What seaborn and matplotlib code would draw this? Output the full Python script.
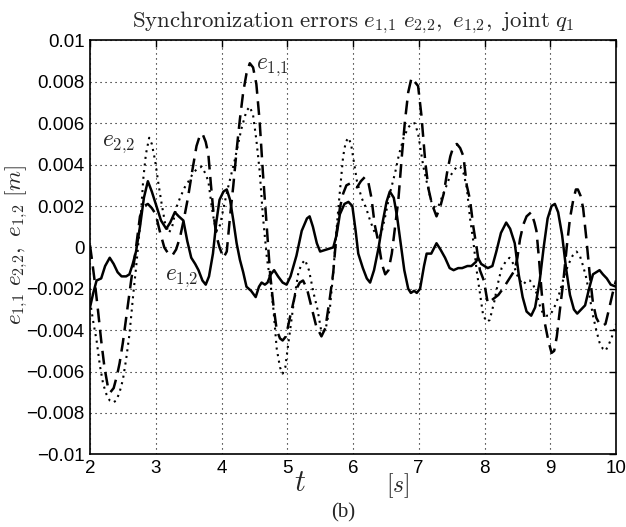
import numpy as np
import pandas as pd
import matplotlib
matplotlib.use("Agg")
import matplotlib.pyplot as plt
import seaborn as sns
from matplotlib.ticker import FixedLocator, FixedFormatter

# ---------------- data ----------------
t_e12 = [2.00, 2.05, 2.10, 2.17, 2.23, 2.30, 2.36, 2.42, 2.48, 2.55, 2.60, 2.65, 2.70, 2.76,
         2.82, 2.88, 2.94, 3.00, 3.08, 3.16, 3.22, 3.29, 3.35, 3.42, 3.48, 3.54, 3.60, 3.65,
         3.71, 3.76, 3.81, 3.87, 3.92, 3.97, 4.03, 4.08, 4.13, 4.18, 4.23, 4.28, 4.33, 4.38,
         4.45, 4.52, 4.57, 4.61, 4.66, 4.70, 4.75, 4.80, 4.86, 4.93, 4.99, 5.05, 5.14, 5.22,
         5.30, 5.34, 5.39, 5.45, 5.50, 5.60, 5.70, 5.75, 5.80, 5.87, 5.93, 5.99, 6.04, 6.08,
         6.15, 6.21, 6.26, 6.32, 6.39, 6.45, 6.51, 6.56, 6.62, 6.67, 6.72, 6.78, 6.84, 6.88,
         6.93, 6.97, 7.02, 7.08, 7.12, 7.19, 7.27, 7.33, 7.40, 7.47, 7.53, 7.60, 7.66, 7.74,
         7.80, 7.87, 7.90, 7.95, 8.05, 8.12, 8.18, 8.25, 8.33, 8.39, 8.46, 8.52, 8.58, 8.64,
         8.71, 8.77, 8.84, 8.90, 8.96, 9.02, 9.07, 9.12, 9.18, 9.24, 9.30, 9.36, 9.41, 9.47,
         9.53, 9.59, 9.65, 9.70, 9.75, 9.80, 9.86, 9.92, 10.0]
e12 = [-0.0029, -0.0022, -0.0016, -0.0015, -0.0009, -0.0005, -0.0008, -0.0012, -0.0014, -0.0014,
       -0.0013, -0.0008, -0.0002, 0.0010, 0.0024, 0.0032, 0.0027, 0.0021, 0.0013, 0.0009,
       0.0012, 0.0017, 0.0015, 0.0013, 0.0003, -0.0005, -0.0008, -0.0011, -0.0016, -0.0018,
       -0.0014, -0.0003, 0.0012, 0.0023, 0.0027, 0.0028, 0.0023, 0.0013, 0.0002, -0.0006,
       -0.0012, -0.0019, -0.0021, -0.0024, -0.0019, -0.0017, -0.0018, -0.0017, -0.0013, -0.0011,
       -0.0014, -0.0017, -0.0018, -0.0014, -0.0004, 0.0008, 0.0014, 0.0015, 0.0010, 0.0002,
       -0.0002, -0.0001, 0.0000, 0.0006, 0.0016, 0.0021, 0.0022, 0.0020, 0.0008, -0.0003,
       -0.0010, -0.0015, -0.0017, -0.0011, 0.0000, 0.0012, 0.0022, 0.0027, 0.0024, 0.0015,
       0.0003, -0.0011, -0.0020, -0.0022, -0.0021, -0.0022, -0.0020, -0.0009, -0.0003, -0.0003,
       0.0002, -0.0001, -0.0005, -0.0010, -0.0011, -0.0010, -0.0010, -0.0009, -0.0009, -0.0007,
       -0.0005, -0.0008, -0.0010, -0.0009, -0.0002, 0.0007, 0.0012, 0.0009, 0.0002, -0.0013,
       -0.0024, -0.0031, -0.0033, -0.0029, -0.0016, 0.0000, 0.0014, 0.0020, 0.0021, 0.0017,
       0.0006, -0.0010, -0.0023, -0.0030, -0.0032, -0.0030, -0.0028, -0.0020, -0.0013, -0.0012,
       -0.0011, -0.0013, -0.0015, -0.0018, -0.0019]

t_e11 = [2.00, 2.03, 2.07, 2.12, 2.17, 2.22, 2.27, 2.31, 2.36, 2.41, 2.45, 2.50, 2.55, 2.58,
         2.63, 2.68, 2.72, 2.76, 2.82, 2.88, 2.94, 3.00, 3.06, 3.13, 3.19, 3.25, 3.31, 3.37,
         3.43, 3.49, 3.55, 3.62, 3.67, 3.71, 3.76, 3.80, 3.84, 3.88, 3.92, 3.97, 4.03, 4.08,
         4.13, 4.18, 4.23, 4.28, 4.33, 4.38, 4.43, 4.48, 4.53, 4.58, 4.63, 4.68, 4.74, 4.79,
         4.84, 4.89, 4.93, 4.98, 5.04, 5.09, 5.14, 5.19, 5.24, 5.30, 5.37, 5.44, 5.52, 5.58,
         5.65, 5.70, 5.75, 5.80, 5.85, 5.90, 5.96, 6.02, 6.06, 6.12, 6.18, 6.23, 6.28, 6.33,
         6.39, 6.44, 6.49, 6.54, 6.59, 6.64, 6.69, 6.74, 6.79, 6.84, 6.89, 6.94, 6.99, 7.04,
         7.10, 7.15, 7.20, 7.27, 7.33, 7.38, 7.43, 7.48, 7.53, 7.58, 7.63, 7.68, 7.73, 7.78,
         7.83, 7.88, 7.93, 7.99, 8.05, 8.13, 8.21, 8.28, 8.36, 8.46, 8.50, 8.54, 8.59, 8.64,
         8.71, 8.76, 8.79, 8.83, 8.87, 8.92, 8.97, 9.02, 9.06, 9.10, 9.14, 9.20, 9.25, 9.30,
         9.35, 9.39, 9.42, 9.46, 9.50, 9.55, 9.60, 9.65, 9.70, 9.75, 9.79, 9.84, 9.90, 9.95,
         10.0]
e11 = [0.0001, -0.0006, -0.0016, -0.0030, -0.0045, -0.0058, -0.0067, -0.0070, -0.0068, -0.0062,
       -0.0056, -0.0046, -0.0034, -0.0027, -0.0015, -0.0005, 0.0005, 0.0015, 0.0020, 0.0021,
       0.0019, 0.0016, 0.0008, 0.0000, -0.0003, -0.0004, -0.0001, 0.0005, 0.0014, 0.0024,
       0.0036, 0.0049, 0.0054, 0.0055, 0.0051, 0.0045, 0.0030, 0.0016, 0.0006, 0.0000,
       -0.0005, -0.0002, 0.0015, 0.0030, 0.0047, 0.0062, 0.0075, 0.0084, 0.0089, 0.0087,
       0.0079, 0.0061, 0.0036, 0.0014, -0.0013, -0.0028, -0.0040, -0.0044, -0.0045, -0.0043,
       -0.0034, -0.0027, -0.0020, -0.0017, -0.0016, -0.0020, -0.0029, -0.0038, -0.0043, -0.0039,
       -0.0024, -0.0012, 0.0007, 0.0019, 0.0026, 0.0030, 0.0031, 0.0030, 0.0029, 0.0032,
       0.0034, 0.0032, 0.0024, 0.0011, 0.0002, -0.0008, -0.0013, -0.0011, -0.0003, 0.0010,
       0.0023, 0.0043, 0.0061, 0.0075, 0.0082, 0.0080, 0.0078, 0.0064, 0.0041, 0.0028,
       0.0021, 0.0015, 0.0020, 0.0026, 0.0036, 0.0044, 0.0049, 0.0050, 0.0048, 0.0044,
       0.0030, 0.0023, 0.0010, 0.0000, -0.0011, -0.0016, -0.0027, -0.0025, -0.0023, -0.0020,
       -0.0016, -0.0011, -0.0005, 0.0004, 0.0011, 0.0015, 0.0017, 0.0012, 0.0008, -0.0006,
       -0.0022, -0.0037, -0.0045, -0.0051, -0.0050, -0.0043, -0.0032, -0.0016, 0.0000, 0.0014,
       0.0023, 0.0028, 0.0028, 0.0025, 0.0019, 0.0004, -0.0013, -0.0027, -0.0034, -0.0037,
       -0.0038, -0.0037, -0.0029, -0.0022, -0.0016]

t_e22 = [2.00, 2.05, 2.10, 2.15, 2.20, 2.25, 2.30, 2.35, 2.40, 2.45, 2.50, 2.55, 2.60, 2.66,
         2.70, 2.73, 2.77, 2.81, 2.85, 2.90, 2.94, 2.99, 3.04, 3.09, 3.14, 3.20, 3.25, 3.31,
         3.37, 3.44, 3.50, 3.57, 3.63, 3.70, 3.75, 3.80, 3.85, 3.89, 3.93, 3.98, 4.03, 4.10,
         4.20, 4.30, 4.38, 4.43, 4.48, 4.53, 4.58, 4.63, 4.69, 4.74, 4.79, 4.84, 4.89, 4.93,
         4.97, 5.01, 5.06, 5.11, 5.17, 5.22, 5.27, 5.33, 5.40, 5.46, 5.52, 5.58, 5.65, 5.70,
         5.74, 5.78, 5.82, 5.85, 5.89, 5.93, 5.97, 6.01, 6.06, 6.13, 6.20, 6.26, 6.32, 6.39,
         6.44, 6.49, 6.56, 6.64, 6.70, 6.77, 6.84, 6.90, 6.94, 6.99, 7.03, 7.07, 7.14, 7.20,
         7.25, 7.30, 7.35, 7.40, 7.47, 7.53, 7.58, 7.63, 7.68, 7.73, 7.78, 7.83, 7.88, 7.93,
         7.98, 8.04, 8.08, 8.15, 8.20, 8.26, 8.32, 8.38, 8.44, 8.49, 8.54, 8.59, 8.64, 8.69,
         8.74, 8.79, 8.84, 8.89, 8.94, 8.98, 9.03, 9.09, 9.15, 9.22, 9.28, 9.34, 9.40, 9.45,
         9.50, 9.55, 9.60, 9.65, 9.70, 9.75, 9.80, 9.84, 9.89, 9.94, 10.0]
e22 = [-0.0026, -0.0036, -0.0045, -0.0057, -0.0066, -0.0071, -0.0074, -0.0075, -0.0074, -0.0070,
       -0.0064, -0.0054, -0.0042, -0.0022, -0.0010, 0.0000, 0.0014, 0.0033, 0.0045, 0.0053,
       0.0050, 0.0042, 0.0031, 0.0021, 0.0012, 0.0007, 0.0010, 0.0019, 0.0024, 0.0029,
       0.0032, 0.0036, 0.0038, 0.0039, 0.0036, 0.0032, 0.0020, 0.0012, 0.0008, 0.0011,
       0.0019, 0.0029, 0.0042, 0.0057, 0.0066, 0.0068, 0.0064, 0.0052, 0.0037, 0.0015,
       -0.0005, -0.0016, -0.0030, -0.0049, -0.0058, -0.0061, -0.0058, -0.0048, -0.0036, -0.0024,
       -0.0012, -0.0008, -0.0006, -0.0011, -0.0022, -0.0030, -0.0041, -0.0040, -0.0029, -0.0012,
       0.0005, 0.0020, 0.0034, 0.0044, 0.0051, 0.0053, 0.0050, 0.0042, 0.0032, 0.0024,
       0.0019, 0.0013, 0.0008, 0.0004, 0.0008, 0.0015, 0.0026, 0.0036, 0.0045, 0.0053,
       0.0058, 0.0060, 0.0060, 0.0055, 0.0047, 0.0039, 0.0029, 0.0021, 0.0019, 0.0020,
       0.0024, 0.0028, 0.0034, 0.0037, 0.0039, 0.0039, 0.0036, 0.0029, 0.0014, 0.0003,
       -0.0011, -0.0022, -0.0033, -0.0036, -0.0035, -0.0026, -0.0018, -0.0010, -0.0007, -0.0005,
       -0.0008, -0.0013, -0.0016, -0.0018, -0.0016, -0.0016, -0.0018, -0.0022, -0.0028, -0.0032,
       -0.0033, -0.0033, -0.0031, -0.0027, -0.0021, -0.0013, -0.0008, -0.0004, -0.0002, -0.0004,
       -0.0009, -0.0015, -0.0024, -0.0033, -0.0040, -0.0046, -0.0049, -0.0050, -0.0047, -0.0043,
       -0.0037]

x_ticks = [2, 3, 4, 5, 6, 7, 8, 9, 10]
x_tick_labels = ["2", "3", "4", "5", "6", "7", "8", "9", "10"]
y_ticks = [-0.01, -0.008, -0.006, -0.004, -0.002, 0, 0.002, 0.004, 0.006, 0.008, 0.01]
y_tick_labels = ["\u22120.01", "\u22120.008", "\u22120.006", "\u22120.004", "\u22120.002", "0",
                 "0.002", "0.004", "0.006", "0.008", "0.01"]

title_text = r"$\mathrm{Synchronization\ errors}\ e_{1{,}1}\ e_{2{,}2},\ e_{1{,}2},\ \mathrm{joint}\ q_1$"
ylabel_text = r"$e_{1{,}1}\ e_{2{,}2},\ e_{1{,}2}\ [m]$"

# ---------------- style ----------------
sns.set_style("white")
plt.rcParams["font.family"] = ["Liberation Sans", "DejaVu Sans"]
plt.rcParams["mathtext.fontset"] = "cm"

fig = plt.figure(figsize=(6.26, 5.27), dpi=100)
ax = fig.add_axes([90 / 626, 1 - 454.3 / 527, (616 - 90) / 626, (454.3 - 40.5) / 527])

df12 = pd.DataFrame({"t": t_e12, "e": e12})
df11 = pd.DataFrame({"t": t_e11, "e": e11})
df22 = pd.DataFrame({"t": t_e22, "e": e22})

sns.lineplot(data=df22, x="t", y="e", ax=ax, color="black", lw=1.5,
             linestyle=(0, (1, 2.2)), estimator=None, sort=True)
sns.lineplot(data=df11, x="t", y="e", ax=ax, color="black", lw=1.8,
             linestyle=(0, (5.5, 3.0)), estimator=None, sort=True)
sns.lineplot(data=df12, x="t", y="e", ax=ax, color="black", lw=1.8,
             linestyle="-", estimator=None, sort=True)

ax.set_xlim(2, 10)
ax.set_ylim(-0.01, 0.01)
ax.xaxis.set_major_locator(FixedLocator(x_ticks))
ax.xaxis.set_major_formatter(FixedFormatter(x_tick_labels))
ax.yaxis.set_major_locator(FixedLocator(y_ticks))
ax.yaxis.set_major_formatter(FixedFormatter(y_tick_labels))
ax.set_xlabel("")
ax.set_ylabel("")

ax.grid(True, color="black", linestyle=(0, (1, 3.5)), lw=0.8)
ax.tick_params(direction="in", length=5, width=1.0, top=True, right=True,
               labelsize=13.5, colors="black", pad=4)
for s in ax.spines.values():
    s.set_visible(True)
    s.set_color("black")
    s.set_linewidth(1.2)

# title
ax.text(0.5, 1 + (40.5 - 27) / 413.8, title_text, transform=ax.transAxes,
        ha="center", va="baseline", fontsize=16.5)

# y label
fig.text(17 / 626, 1 - 245 / 527, ylabel_text, rotation=90, ha="center", va="center",
         fontsize=16.5)

# x label pieces
fig.text(300 / 626, 1 - 483 / 527, r"$t$", ha="center", va="center", fontsize=22)
fig.text(398 / 626, 1 - 486 / 527, r"$[s]$", ha="center", va="center", fontsize=17)
fig.text(343 / 626, 1 - 513 / 527, "(b)", family="Liberation Serif", ha="center",
         va="center", fontsize=15)

# curve annotations
ax.text(4.53, 0.0087, r"$e_{1{,}1}$", ha="left", va="center", fontsize=17)
ax.text(2.19, 0.0050, r"$e_{2{,}2}$", ha="left", va="center", fontsize=17)
ax.text(3.14, -0.00148, r"$e_{1{,}2}$", ha="left", va="center", fontsize=17)

fig.savefig("out.png", dpi=100)
